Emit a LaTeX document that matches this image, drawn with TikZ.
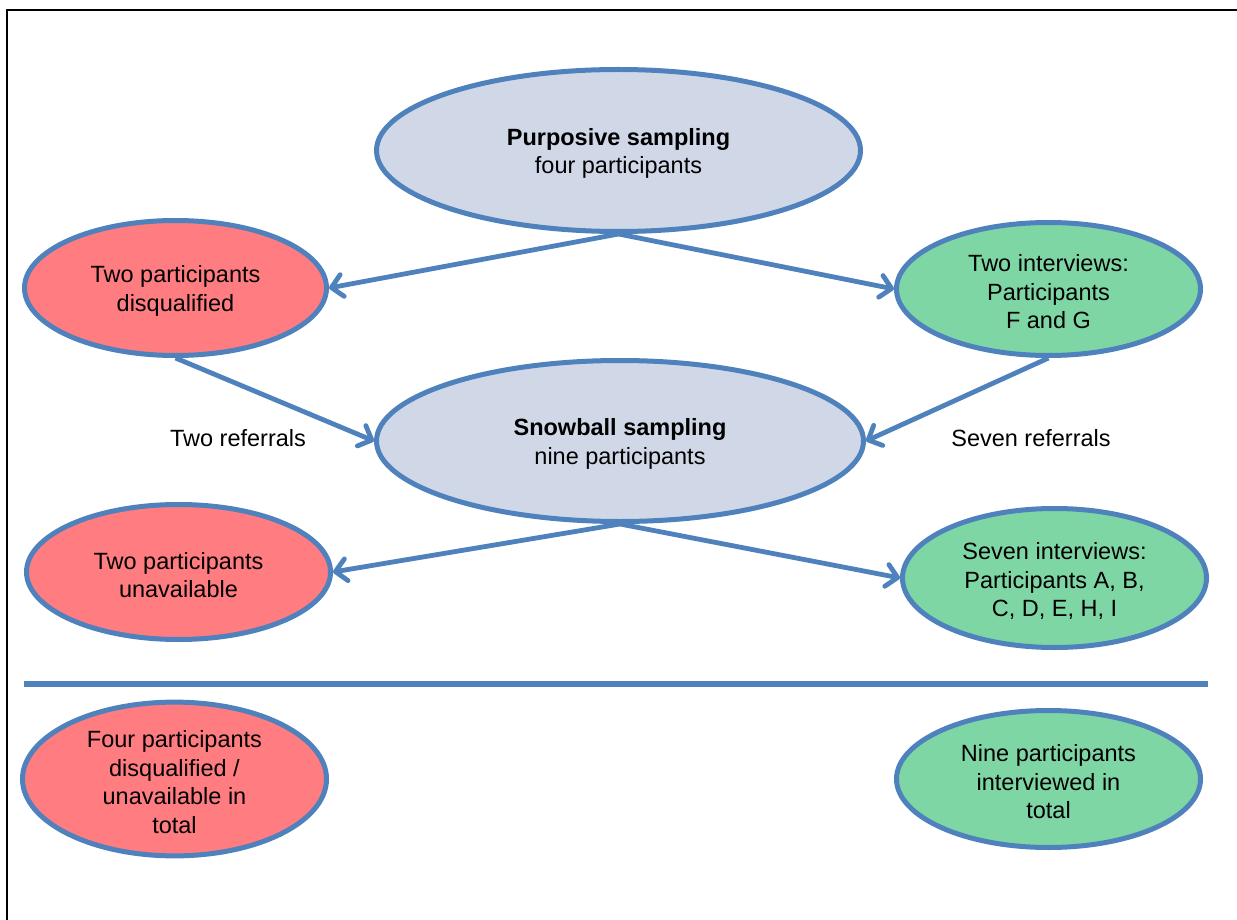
\documentclass[tikz,border=0pt]{standalone}
\usepackage{fontspec}
\setmainfont{Liberation Sans}
\usetikzlibrary{shapes.geometric,arrows.meta}
\definecolor{edgeblue}{RGB}{79,129,189}
\definecolor{stagefill}{RGB}{208,216,232}
\definecolor{lossfill}{RGB}{255,124,128}
\definecolor{gainfill}{RGB}{127,214,165}
% tall strut on the first line drops each text block a little inside its ellipse
\newcommand{\firststrut}{\rule{0pt}{23pt}}
\tikzset{
  bubble/.style={ellipse, draw=edgeblue, line width=5pt, inner sep=0pt,
    align=center, font=\fontsize{23.5}{28.5}\selectfont, text=black},
  stage/.style={bubble, fill=stagefill},
  loss/.style={bubble, fill=lossfill},
  gain/.style={bubble, fill=gainfill},
  flow/.style={draw=edgeblue, line width=4.8pt,
    -{Straight Barb[length=11pt,width=22pt,line cap=round,line join=round]}},
  note/.style={font=\fontsize{23.5}{28.5}\selectfont, text=black}
}
\begin{document}
\begin{tikzpicture}[x=1pt,y=-1pt]
\useasboundingbox (0,0) rectangle (1237,920);
% frame (top and left edges only)
\draw[line width=2.2pt] (7,930) -- (7,10) -- (1247,10);

\node[stage, minimum width=484pt, minimum height=162pt] (pur) at (618.5,150.5)
  {\firststrut\textbf{Purposive sampling}\\four participants};
\node[loss, minimum width=302pt, minimum height=135pt] (r1) at (175.5,288)
  {\firststrut Two participants\\disqualified};
\node[gain, minimum width=304pt, minimum height=133pt] (g1) at (1048.5,289)
  {\firststrut Two interviews:\\Participants\\F and G};
\node[stage, minimum width=487pt, minimum height=161pt] (snow) at (620,441)
  {\firststrut\textbf{Snowball sampling}\\nine participants};
\node[loss, minimum width=304pt, minimum height=135pt] (r2) at (178.5,572)
  {\firststrut Two participants\\unavailable};
\node[gain, minimum width=304pt, minimum height=139pt] (g2) at (1054.5,578)
  {\firststrut Seven interviews:\\Participants A, B,\\C, D, E, H, I};
\node[loss, minimum width=304pt, minimum height=137pt] (r3) at (174.5,779)
  {\firststrut Four participants\\disqualified /\\unavailable in\\total};
\node[gain, minimum width=304pt, minimum height=137pt] (g3) at (1048.5,779)
  {\firststrut Nine participants\\interviewed in\\total};

\node[note] (refl) at (238,438) {Two referrals};
\node[note] (refr) at (1031,438) {Seven referrals};

\draw[flow] (pur.south) -- (r1.east);
\draw[flow] (pur.south) -- (g1.west);
\draw[flow] (r1.south) -- (snow.west);
\draw[flow] (g1.south) -- (snow.east);
\draw[flow] (snow.south) -- (r2.east);
\draw[flow] (snow.south) -- (g2.west);

% divider between the stages and the totals
\coordinate (divl) at (24,684);
\coordinate (divr) at (1208,684);
\draw[edgeblue, line width=5.5pt] (divl) -- (divr);
\end{tikzpicture}
\end{document}
